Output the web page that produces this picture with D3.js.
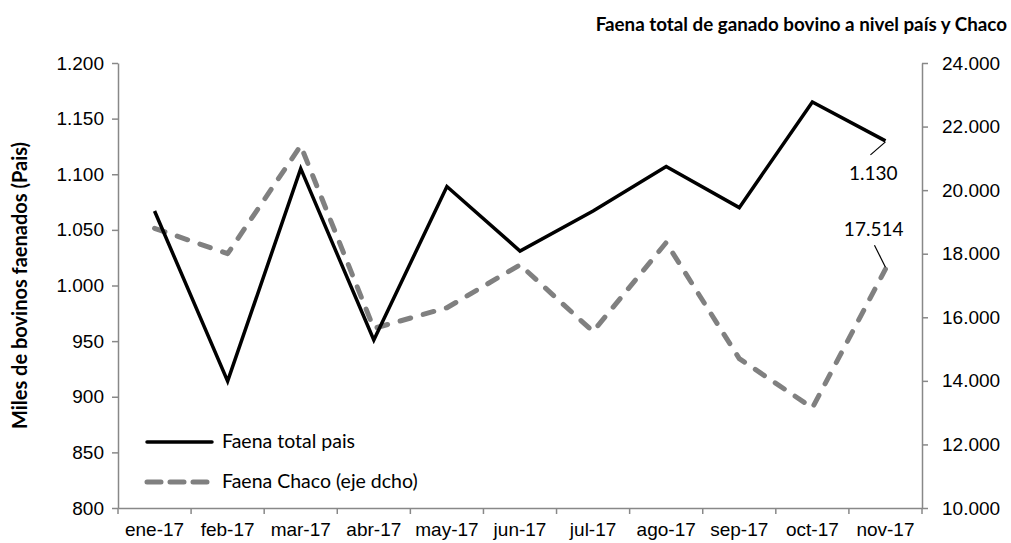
<!DOCTYPE html>
<html>
<head>
<meta charset="utf-8">
<script src="https://cdn.jsdelivr.net/npm/d3@7"></script>
<style>
  body { margin: 0; background: #fff; }
  svg { font-family: Lato, "Liberation Sans", Arial, sans-serif; }
  .axis text { font-size: 19px; fill: #000; }
  .axis path, .axis line { stroke: #888; stroke-width: 1.5; }
</style>
</head>
<body>
<svg width="1011" height="543"></svg>
<script>
// chart data
const months = ["ene-17", "feb-17", "mar-17", "abr-17", "may-17", "jun-17",
                "jul-17", "ago-17", "sep-17", "oct-17", "nov-17"];
const faenaPais = [1067, 914, 1105, 951, 1089, 1031, 1067, 1107, 1070, 1165, 1130];
const faenaChaco = [18800, 18000, 21400, 15650, 16300, 17650, 15550, 18350, 14700, 13150, 17514];
const leftTicks = [800, 850, 900, 950, 1000, 1050, 1100, 1150, 1200];
const rightTicks = [10000, 12000, 14000, 16000, 18000, 20000, 22000, 24000];

const width = 1011, height = 543;
const margin = { top: 63, right: 89, bottom: 35, left: 118 };

const svg = d3.select("svg");

// es-AR style number format: 1.200 / 24.000
const fmt = d3.formatLocale({ decimal: ",", thousands: ".", grouping: [3], currency: ["$", ""] }).format(",.0f");

const x = d3.scaleBand()
  .domain(months)
  .range([margin.left, width - margin.right]);

const yL = d3.scaleLinear()
  .domain([800, 1200])
  .range([height - margin.bottom, margin.top]);

const yR = d3.scaleLinear()
  .domain([10000, 24000])
  .range([height - margin.bottom, margin.top]);

const cx = d => x(d) + x.bandwidth() / 2;

// Left axis
svg.append("g")
  .attr("class", "axis")
  .attr("transform", `translate(${margin.left},0)`)
  .call(d3.axisLeft(yL).tickValues(leftTicks).tickFormat(fmt).tickSize(6).tickSizeOuter(0).tickPadding(8));

// Right axis
svg.append("g")
  .attr("class", "axis")
  .attr("transform", `translate(${width - margin.right},0)`)
  .call(d3.axisRight(yR).tickValues(rightTicks).tickFormat(fmt).tickSize(6).tickSizeOuter(0).tickPadding(14));

// X axis: labels at centres, ticks at band edges
const xg = svg.append("g")
  .attr("class", "axis")
  .attr("transform", `translate(0,${height - margin.bottom})`)
  .call(d3.axisBottom(x).tickSize(0).tickSizeOuter(0).tickPadding(15));

xg.selectAll(".edge")
  .data(months.concat(["end"]))
  .enter()
  .append("line")
  .attr("class", "edge")
  .attr("x1", (d, i) => margin.left + i * x.step())
  .attr("x2", (d, i) => margin.left + i * x.step())
  .attr("y1", 0)
  .attr("y2", 6);

// Lines
const linePais = d3.line()
  .x((d, i) => cx(months[i]))
  .y(d => yL(d));

const lineChaco = d3.line()
  .x((d, i) => cx(months[i]))
  .y(d => yR(d));

svg.append("path")
  .datum(faenaChaco)
  .attr("fill", "none")
  .attr("stroke", "#808080")
  .attr("stroke-width", 5)
  .attr("stroke-dasharray", "11,13")
  .attr("stroke-linecap", "round")
  .attr("stroke-linejoin", "round")
  .attr("d", lineChaco);

svg.append("path")
  .datum(faenaPais)
  .attr("fill", "none")
  .attr("stroke", "#000")
  .attr("stroke-width", 3.5)
  .attr("d", linePais);

// Data labels for the last point
const last = months.length - 1;
const lx = cx(months[last]);

svg.append("line")
  .attr("x1", lx - 15).attr("y1", yL(faenaPais[last]) + 14)
  .attr("x2", lx).attr("y2", yL(faenaPais[last]) + 1)
  .attr("stroke", "#000").attr("stroke-width", 1.2);
svg.append("text")
  .attr("x", lx + 12).attr("y", yL(faenaPais[last]) + 39)
  .attr("text-anchor", "end")
  .style("font-size", "19px")
  .text(fmt(faenaPais[last]));

svg.append("line")
  .attr("x1", lx - 11).attr("y1", yR(faenaChaco[last]) - 24)
  .attr("x2", lx).attr("y2", yR(faenaChaco[last]) - 2)
  .attr("stroke", "#000").attr("stroke-width", 1.2);
svg.append("text")
  .attr("x", lx + 18).attr("y", yR(faenaChaco[last]) - 33)
  .attr("text-anchor", "end")
  .style("font-size", "19px")
  .text(fmt(faenaChaco[last]));

// Title
svg.append("text")
  .attr("x", 1007)
  .attr("y", 31)
  .attr("text-anchor", "end")
  .style("font-size", "18.8px")
  .style("font-weight", "bold")
  .text("Faena total de ganado bovino a nivel país y Chaco");

// Y-axis label
svg.append("text")
  .attr("transform", "rotate(-90)")
  .attr("x", -(margin.top + (height - margin.bottom)) / 2)
  .attr("y", 27)
  .style("text-anchor", "middle")
  .style("font-size", "20px")
  .style("font-weight", "bold")
  .text("Miles de bovinos faenados (Pais)");

// Legend
const legend = [
  { label: "Faena total pais", color: "#000", width: 3.5, dash: null, y: 442 },
  { label: "Faena Chaco (eje dcho)", color: "#808080", width: 5, dash: "14,9", y: 482 }
];

const lg = svg.selectAll(".legend")
  .data(legend)
  .enter()
  .append("g")
  .attr("class", "legend");

lg.append("line")
  .attr("x1", 147).attr("x2", 212)
  .attr("y1", d => d.y).attr("y2", d => d.y)
  .attr("stroke", d => d.color)
  .attr("stroke-width", d => d.width)
  .attr("stroke-linecap", "round")
  .attr("stroke-dasharray", d => d.dash);

lg.append("text")
  .attr("x", 222)
  .attr("y", d => d.y + 6)
  .style("font-size", "19.5px")
  .text(d => d.label);
</script>
</body>
</html>
